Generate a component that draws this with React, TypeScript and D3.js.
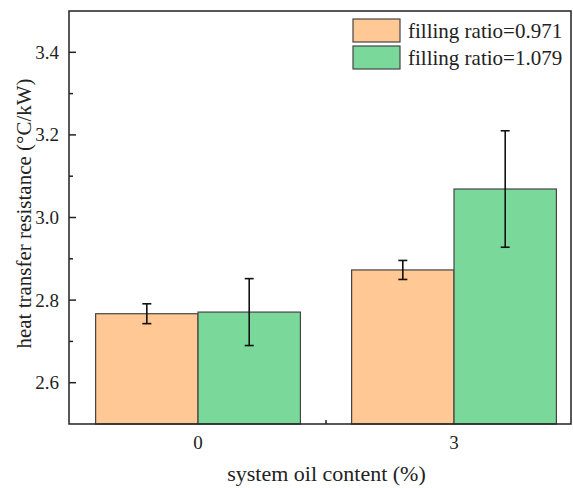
import React from 'react';
import * as d3 from 'd3';

const categories = ['0', '3'];
const seriesNames = ['filling ratio=0.971', 'filling ratio=1.079'];
const ratio0971 = [2.767, 2.873];
const ratio0971Err = [0.024, 0.023];
const ratio1079 = [2.771, 3.069];
const ratio1079Err = [0.081, 0.141];
const yTicks = [2.6, 2.8, 3.0, 3.2, 3.4];
const yMinorTicks = [2.7, 2.9, 3.1, 3.3];

const colors = ['#FFC894', '#7AD99A'];
const font = '"Liberation Serif", "Times New Roman", serif';

const App = () => {
  const width = 573;
  const height = 488;
  const left = 69;
  const right = 571;
  const top = 11;
  const bottom = 424;

  const y = d3.scaleLinear().domain([2.5, 3.5]).range([bottom, top]);
  const x = d3.scaleLinear().domain([-0.504, 1.457]).range([left, right]);
  const barW = x(0.4) - x(0);

  const series = [
    { name: seriesNames[0], values: ratio0971, errs: ratio0971Err, color: colors[0], offset: -1 },
    { name: seriesNames[1], values: ratio1079, errs: ratio1079Err, color: colors[1], offset: 0 },
  ];

  return (
    <svg width={width} height={height} style={{ position: 'absolute', left: 0, top: 0, background: '#fff' }}>
      {/* x ticks (inward, mostly hidden by bars) */}
      {categories.map((c, i) => (
        <line key={'xt' + c} x1={x(i)} x2={x(i)} y1={bottom} y2={bottom - 7} stroke="#222" strokeWidth={1.5} />
      ))}
      <line x1={x(0.5)} x2={x(0.5)} y1={bottom} y2={bottom - 4} stroke="#222" strokeWidth={1.5} />

      {series.map(s =>
        s.values.map((v, i) => {
          const x0 = x(i) + s.offset * barW;
          return (
            <rect key={s.name + i} x={x0} y={y(v)} width={barW} height={bottom - y(v)}
              fill={s.color} stroke="#444" strokeWidth={1.2} />
          );
        })
      )}

      {series.map(s =>
        s.values.map((v, i) => {
          const cx = x(i) + s.offset * barW + barW / 2;
          const hi = y(v + s.errs[i]);
          const lo = y(v - s.errs[i]);
          return (
            <g key={'e' + s.name + i} stroke="#111" strokeWidth={1.6}>
              <line x1={cx} x2={cx} y1={hi} y2={lo} />
              <line x1={cx - 4.5} x2={cx + 4.5} y1={hi} y2={hi} />
              <line x1={cx - 4.5} x2={cx + 4.5} y1={lo} y2={lo} />
            </g>
          );
        })
      )}

      {/* frame */}
      <rect x={left} y={top} width={right - left} height={bottom - top} fill="none" stroke="#222" strokeWidth={1.5} />

      {/* y ticks */}
      {yTicks.map(t => (
        <g key={'y' + t}>
          <line x1={left} x2={left + 7} y1={y(t)} y2={y(t)} stroke="#222" strokeWidth={1.5} />
          <text x={left - 10} y={y(t) + 6.5} textAnchor="end" fontFamily={font} fontSize={19} fill="#222">
            {d3.format('.1f')(t)}
          </text>
        </g>
      ))}
      {yMinorTicks.map(t => (
        <line key={'ym' + t} x1={left} x2={left + 4} y1={y(t)} y2={y(t)} stroke="#222" strokeWidth={1.5} />
      ))}

      {/* x labels */}
      {categories.map((c, i) => (
        <text key={'xl' + c} x={x(i)} y={449} textAnchor="middle" fontFamily={font} fontSize={19} fill="#222">{c}</text>
      ))}

      <text x={326.5} y={481} textAnchor="middle" fontFamily={font} fontSize={22} fill="#222">
        system oil content (%)
      </text>
      <text transform={`translate(31,${213.5}) rotate(-90)`} textAnchor="middle" fontFamily={font} fontSize={21} fill="#222">
        heat transfer resistance (°C/kW)
      </text>

      {/* legend */}
      {series.map((s, i) => (
        <g key={'lg' + i} transform={`translate(353,${19 + i * 27})`}>
          <rect x={0} y={0} width={47} height={23} fill={s.color} stroke="#444" strokeWidth={1.2} />
          <text x={55} y={18.5} fontFamily={font} fontSize={21} fill="#222">{s.name}</text>
        </g>
      ))}
    </svg>
  );
};

export default App;
